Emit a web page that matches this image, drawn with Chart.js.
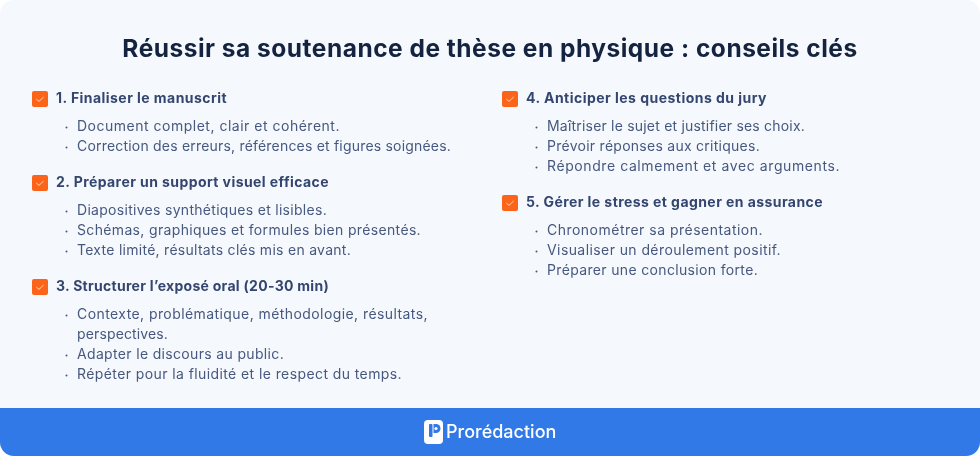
<!DOCTYPE html>
<html lang="fr"><head><meta charset="utf-8">
<style>html,body{margin:0;padding:0;background:#fff;overflow:hidden}#w{width:980px;height:456px}canvas{display:block}</style>
<script src="https://cdn.jsdelivr.net/npm/chart.js@4"></script></head>
<body><div id="w"><canvas id="c" width="980" height="456"></canvas></div>
<script>
const titleText = "Réussir sa soutenance de thèse en physique : conseils clés";
const brandText = "Prorédaction";
const leftHeadings = ["1. Finaliser le manuscrit","2. Préparer un support visuel efficace","3. Structurer l’exposé oral (20-30 min)"];
const leftBullets = [
 [["Document complet, clair et cohérent."],["Correction des erreurs, références et figures soignées."]],
 [["Diapositives synthétiques et lisibles."],["Schémas, graphiques et formules bien présentés."],["Texte limité, résultats clés mis en avant."]],
 [["Contexte, problématique, méthodologie, résultats,","perspectives."],["Adapter le discours au public."],["Répéter pour la fluidité et le respect du temps."]]
];
const rightHeadings = ["4. Anticiper les questions du jury","5. Gérer le stress et gagner en assurance"];
const rightBullets = [
 [["Maîtriser le sujet et justifier ses choix."],["Prévoir réponses aux critiques."],["Répondre calmement et avec arguments."]],
 [["Chronométrer sa présentation."],["Visualiser un déroulement positif."],["Préparer une conclusion forte."]]
];
const lineEnds = [227,340,451,329,327,421,351,329,428,168,284,402,767,805,760,840,823,763,781,758];
const FONT = "Inter, sans-serif";
const COLORS = {bg:"#f5f9fd",band:"#3079e6",title:"#14233f",head:"#34466f",text:"#47587f",box:"#fb6419"};

function flow(headings, bullets, colX){
  const rows=[]; let y=99;
  headings.forEach((h,i)=>{
    rows.push({x:colX,y,kind:"head",text:h});
    y+=28;
    bullets[i].forEach(lines=>lines.forEach((t,k)=>{
      rows.push({x:colX,y,kind:k?"cont":"bullet",text:t}); y+=20;
    }));
    y+=16;
  });
  return rows;
}
const rows=[...flow(leftHeadings,leftBullets,40),...flow(rightHeadings,rightBullets,510)];

const boxPoint=(()=>{const s=16,r=2,o=document.createElement("canvas");o.width=o.height=s;
 const g=o.getContext("2d");g.fillStyle=COLORS.box;g.beginPath();g.roundRect(0,0,s,s,r);g.fill();
 g.strokeStyle="#ffd9c2";g.lineWidth=1;g.lineCap="round";g.beginPath();g.moveTo(4.6,8.4);g.lineTo(7,10.4);g.lineTo(11.4,6.2);g.stroke();
 return o;})();

function fitted(g,text,x,y,end){
  g.letterSpacing="0px";
  const w=g.measureText(text).width;
  g.letterSpacing=((end-x-w)/text.length).toFixed(3)+"px";
  g.fillText(text,x,y);
}

const sheet={id:"sheet",beforeDraw(ch){const g=ch.ctx;g.save();
  g.fillStyle=COLORS.bg;g.beginPath();g.roundRect(0,0,980,456,14);g.fill();
  g.fillStyle=COLORS.band;g.beginPath();g.roundRect(0,408,980,48,[0,0,14,14]);g.fill();
  g.restore();},
 afterDraw(ch){const g=ch.ctx,X=ch.scales.x,Y=ch.scales.y;g.save();g.textBaseline="middle";g.textAlign="left";
  g.fontKerning="normal";
  g.font="700 24.5px "+FONT;g.fillStyle=COLORS.title;g.letterSpacing="0.5px";g.textAlign="center";
  g.fillText(titleText,490,49.5);g.textAlign="left";
  rows.forEach((r,i)=>{const px=X.getPixelForValue(r.x),py=Y.getPixelForValue(r.y);
    if(r.kind==="head"){g.font="700 14px "+FONT;g.fillStyle=COLORS.head;fitted(g,r.text,px+16,py,lineEnds[i]);}
    else{g.font="400 14px "+FONT;g.fillStyle=COLORS.text;fitted(g,r.text,px+37,py,lineEnds[i]);
      if(r.kind==="bullet"){g.beginPath();g.arc(px+26.5,py+.5,1,0,7);g.fill();}}
  });
  g.letterSpacing="0px";
  g.fillStyle="#fff";g.beginPath();g.roundRect(424,420,19,24,4);g.fill();
  g.fillStyle=COLORS.band;g.beginPath();g.roundRect(429,424,3.5,13,1);g.fill();
  g.beginPath();g.moveTo(433.5,424);g.lineTo(436,424);g.arc(436,428.5,4.5,-Math.PI/2,Math.PI/2);g.lineTo(433.5,433);g.closePath();g.fill();
  g.fillStyle="#fff";g.beginPath();g.arc(436,428.5,1.6,0,7);g.fill();
  g.font="500 18px "+FONT;g.fillStyle="#fff";g.fillText(brandText,446,433);
  g.restore();}};

new Chart(document.getElementById("c"),{type:"scatter",
 data:{datasets:[{data:rows.filter(r=>r.kind==="head").map(r=>({x:r.x,y:r.y})),pointStyle:boxPoint,pointRadius:8,pointHoverRadius:8}]},
 options:{responsive:false,animation:false,events:[],layout:{padding:0,autoPadding:false},
  plugins:{legend:{display:false},tooltip:{enabled:false}},
  scales:{x:{type:"linear",display:false,min:0,max:980},y:{type:"linear",display:false,min:0,max:456,reverse:true}}},
 plugins:[sheet]});
</script></body></html>
